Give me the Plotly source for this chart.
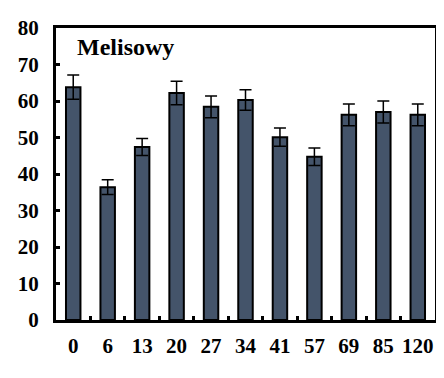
import plotly.graph_objects as go

categories = ["0", "6", "13", "20", "27", "34", "41", "57", "69", "85", "120"]
values = [63.8, 36.4, 47.4, 62.2, 58.4, 60.3, 50.1, 44.7, 56.2, 57.0, 56.2]
errors = [3.3, 2.0, 2.3, 3.2, 3.0, 2.8, 2.5, 2.4, 3.0, 3.0, 3.0]
y_ticks = [0, 10, 20, 30, 40, 50, 60, 70, 80]

serif = "Liberation Serif"
tick_font = dict(family=serif, size=21, color="black")

fig = go.Figure(go.Bar(
    x=categories, y=values,
    width=0.42,
    marker=dict(color="#44546A", line=dict(color="black", width=2)),
    error_y=dict(type="data", array=errors, visible=True, color="black", thickness=1.5, width=6),
))

# page body has an 8px default margin, so the figure is 8px smaller
fig.update_layout(
    width=436, height=370,
    margin=dict(l=48, r=9, t=20, b=58),
    paper_bgcolor="white", plot_bgcolor="white",
    showlegend=False,
    font=dict(family=serif, color="black"),
    annotations=[dict(text="<b>Melisowy</b>", x=0.05, y=0.985, xref="paper", yref="paper",
                      xanchor="left", yanchor="top", showarrow=False,
                      font=dict(family=serif, size=24, color="black"))],
)
fig.update_xaxes(
    type="category", showline=True, linecolor="black", linewidth=3, mirror=True,
    ticks="inside", ticklen=4, tickwidth=3, tickcolor="black", tickson="boundaries",
    tickfont=tick_font, tickangle=0, automargin=False,
    ticklabelstandoff=5, showgrid=False,
    tickvals=categories, ticktext=["<b>%s</b>" % c for c in categories],
)
fig.update_yaxes(
    range=[0, 80], tickvals=y_ticks, ticktext=["<b>%d</b>" % v for v in y_ticks],
    showline=True, linecolor="black", linewidth=3, mirror=True,
    ticks="inside", ticklen=4, tickwidth=3, tickcolor="black",
    tickfont=tick_font, automargin=False,
    ticklabelstandoff=10, showgrid=False, zeroline=False,
)

fig.write_html("out.html")
